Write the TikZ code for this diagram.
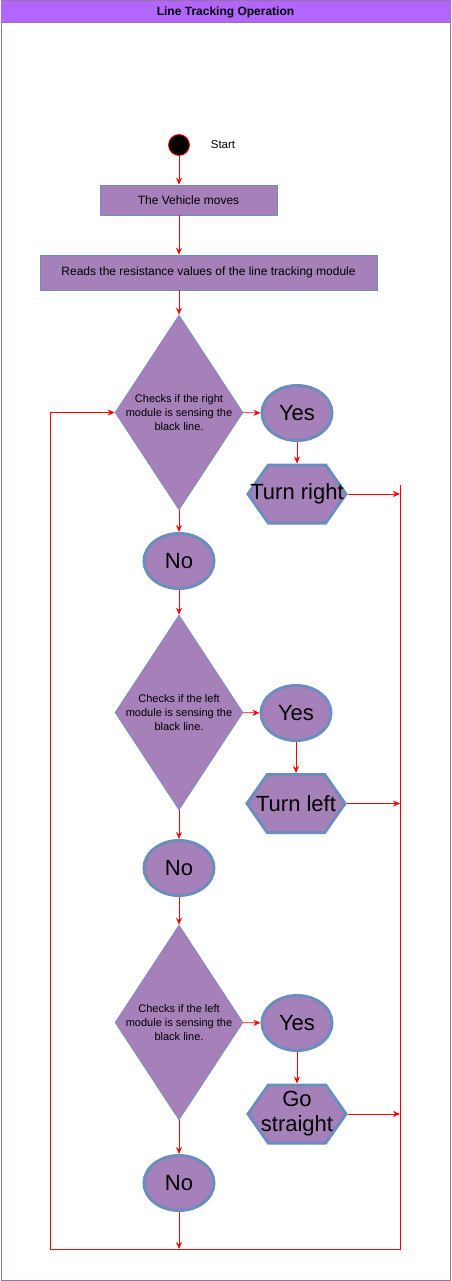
\documentclass[tikz,border=0pt]{standalone}
\usepackage{fontspec}
\setmainfont{Liberation Sans}
\usetikzlibrary{shapes.geometric,shapes.symbols,arrows.meta}

\definecolor{boxfill}{HTML}{A680B8}
\definecolor{boxedge}{HTML}{6C8EBF}
\definecolor{headfill}{HTML}{B266FF}
\definecolor{frameedge}{HTML}{9673A6}

\begin{document}
\begin{tikzpicture}[
        x = 1pt, y = -1pt, % pixel grid, y going down
        ->, % Arrow style
        > = {Stealth[length=7pt,width=6pt]}, % arrow head style
        draw = red, % connector colour
        line width = 0.8pt % line style
      ]

      \tikzstyle{box}=[rectangle,draw=boxedge,fill=boxfill,line width=0.6pt,inner sep=0pt,font=\fontsize{12}{14}\selectfont]
      \tikzstyle{check}=[diamond,draw=boxedge,fill=boxfill,line width=0.6pt,inner sep=0pt,minimum width=128pt,minimum height=195pt]
      \tikzstyle{answer}=[ellipse,draw=boxedge,fill=boxfill,line width=3pt,inner sep=0pt,minimum width=70pt,minimum height=55pt,font=\fontsize{22}{24}\selectfont]
      \tikzstyle{act}=[signal,signal to=east and west,signal pointer angle=110,draw=boxedge,fill=boxfill,line width=3pt,inner sep=0pt,minimum width=98pt,minimum height=58pt]
      \tikzstyle{checktext}=[font=\fontsize{11}{14}\selectfont,align=center]
      \tikzstyle{acttext}=[font=\fontsize{22}{25}\selectfont,align=center,inner sep=0pt]

      \useasboundingbox (0,0) rectangle (451,1281);

      % frame and title
      \draw[-,frameedge,line width=1pt] (1,1) rectangle (450,1280);
      \fill[headfill] (1,1) rectangle (450,23);
      \draw[-,frameedge,line width=1pt] (1,23) -- (450,23);
      \node[font=\bfseries\fontsize{12}{14}\selectfont] (title) at (225.5,12) {Line Tracking Operation};

      \node[circle,fill=black,draw=red,line width=0.8pt,minimum size=21pt,inner sep=0pt] (start) at (179,145) {};
      \node[font=\fontsize{11.5}{14}\selectfont] (startlbl) at (223,145) {Start};
      \node[box,minimum width=177pt,minimum height=30pt] (move) at (188.5,200) {The Vehicle moves};
      \node[box,minimum width=337pt,minimum height=35pt] (read) at (208.5,272.5) {Reads the resistance values of the line tracking module};

      \node[check,label={[checktext]center:Checks if the right\\module is sensing the\\black line.}] (c1) at (179,412.5) {};
      \node[answer] (yes1) at (297,413) {Yes};
      \node[act,label={[acttext]center:Turn right}] (turnr) at (297,494) {};
      \node[answer] (no1) at (179,561) {No};

      \node[check,label={[checktext]center:Checks if the left\\module is sensing the\\black line.}] (c2) at (179,712.5) {};
      \node[answer] (yes2) at (296,713) {Yes};
      \node[act,label={[acttext]center:Turn left}] (turnl) at (296,803.5) {};
      \node[answer] (no2) at (179,868) {No};

      \node[check,label={[checktext]center:Checks if the left\\module is sensing the\\black line.}] (c3) at (179,1022.5) {};
      \node[answer] (yes3) at (297,1023) {Yes};
      \node[act,label={[acttext]center:Go\\straight}] (gost) at (297,1114) {};
      \node[answer] (no3) at (179,1183) {No};

      \coordinate (rtop) at (400,485);
      \coordinate (rbot) at (400,1249);
      \coordinate (lbot) at (50,1249);

      \draw (start) -- (start |- move.north);
      \draw (move.south -| start) -- (start |- read.north);
      \draw (read.south -| c1) -- (c1.north);

      \draw (c1) -- (yes1);
      \draw (yes1) -- (turnr);
      \draw (c1) -- (no1);
      \draw (no1) -- (c2);
      \draw (c2) -- (yes2);
      \draw (yes2) -- (turnl);
      \draw (c2) -- (no2);
      \draw (no2) -- (c3);
      \draw (c3) -- (yes3);
      \draw (yes3) -- (gost);
      \draw (c3) -- (no3);
      \draw (no3) -- (no3 |- lbot);

      \draw (turnr.east) -- (turnr.east -| rtop);
      \draw (turnl.east) -- (turnl.east -| rtop);
      \draw (gost.east) -- (gost.east -| rtop);

      \draw (rtop) -- (rbot) -- (lbot) -- (lbot |- c1) -- (c1.west);

    \end{tikzpicture}
\end{document}
